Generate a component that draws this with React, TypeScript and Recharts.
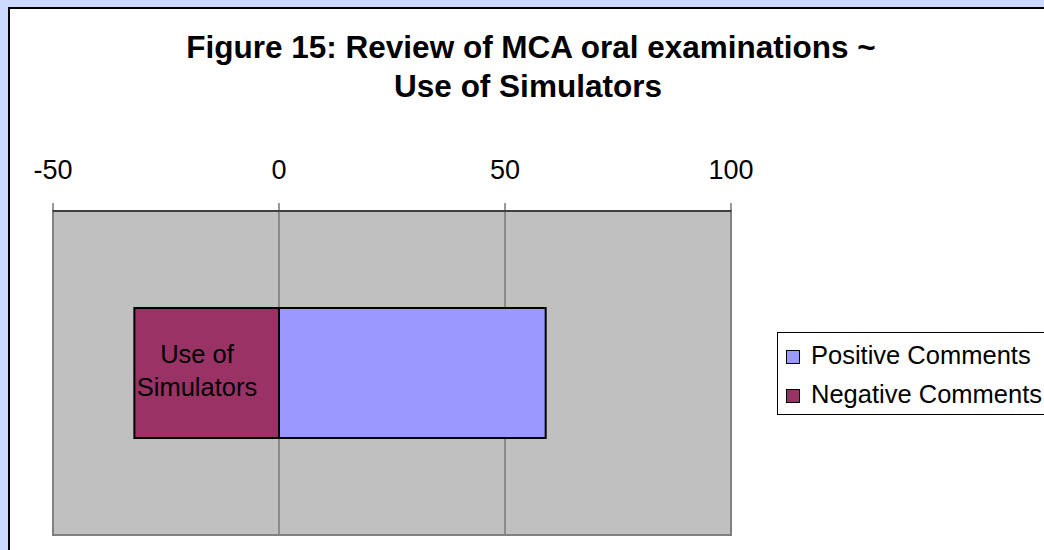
import React from "react";
import {
  BarChart,
  Bar,
  XAxis,
  YAxis,
  CartesianGrid,
  Legend,
  LabelList,
  ReferenceArea,
} from "recharts";

const categories = ["Use of Simulators"];
const positiveValues = [59];
const negativeValues = [-32];
const xTicks = [-50, 0, 50, 100];
const titleLines = ["Figure 15: Review of MCA oral examinations ~", "Use of Simulators"];
const seriesNames = { positive: "Positive Comments", negative: "Negative Comments" };
const legendOrder = [seriesNames.positive, seriesNames.negative];
const colors = { positive: "#9999FF", negative: "#993366" };

const data = categories.map((name, i) => ({
  name,
  positive: positiveValues[i],
  negative: negativeValues[i],
}));

const FONT = "'Liberation Sans', Arial, sans-serif";

const XTick = (props: any) => {
  const { x, y, payload } = props;
  return (
    <text x={x} y={y - 22} textAnchor="middle" fontFamily={FONT} fontSize={27} fill="#000">
      {payload.value}
    </text>
  );
};

const CategoryLabel = (props: any) => {
  const { x, y, width, height, value } = props;
  const right = Math.max(x, x + width);
  const cx = right - 82;
  const cy = y + height / 2;
  const words = String(value).split(" ");
  const line1 = words.slice(0, words.length - 1).join(" ");
  const line2 = words[words.length - 1];
  return (
    <g>
      <text x={cx} y={cy - 10} textAnchor="middle" fontFamily={FONT} fontSize={25.5} fill="#000">
        {line1}
      </text>
      <text x={cx} y={cy + 23} textAnchor="middle" fontFamily={FONT} fontSize={25.5} fill="#000">
        {line2}
      </text>
    </g>
  );
};

const LegendContent = (props: any) => {
  const payload = [...(props.payload || [])].sort(
    (a: any, b: any) => legendOrder.indexOf(a.value) - legendOrder.indexOf(b.value)
  );
  return (
    <div
      style={{
        position: "absolute",
        left: 777,
        top: 332,
        border: "1px solid #000",
        background: "#fff",
        width: 290,
        height: 83,
        boxSizing: "border-box",
        paddingTop: 3,
        paddingLeft: 8,
      }}
    >
      {payload.map((p: any) => (
        <div
          key={p.value}
          style={{
            display: "flex",
            alignItems: "center",
            height: 39,
            fontFamily: FONT,
            fontSize: 25.5,
            color: "#000",
            whiteSpace: "nowrap",
          }}
        >
          <span
            style={{
              display: "inline-block",
              width: 12,
              height: 12,
              border: "1.5px solid #000",
              background: p.color,
              marginRight: 11,
              marginTop: 2,
            }}
          />
          {p.value}
        </div>
      ))}
    </div>
  );
};

export default function App() {
  return (
    <div
      style={{
        position: "absolute",
        left: 0,
        top: 0,
        width: 1044,
        height: 550,
        overflow: "hidden",
        background: "#CCDAFF",
      }}
    >
      <div
        style={{
          position: "absolute",
          left: 8,
          top: 7,
          width: 1100,
          height: 600,
          background: "#fff",
          borderLeft: "2px solid #000",
          borderTop: "2px solid #000",
        }}
      />
      <svg
        width={1044}
        height={550}
        style={{ position: "absolute", left: 0, top: 0 }}
      >
        <text x={531} y={58} textAnchor="middle" fontFamily={FONT} fontWeight="bold" fontSize={31.5} fill="#000">
          {titleLines[0]}
        </text>
        <text x={528} y={97} textAnchor="middle" fontFamily={FONT} fontWeight="bold" fontSize={31.5} fill="#000">
          {titleLines[1]}
        </text>
      </svg>
      <div style={{ position: "absolute", left: 0, top: 0 }}>
        <BarChart
          width={1044}
          height={550}
          data={data}
          layout="vertical"
          stackOffset="sign"
          margin={{ top: 161, left: 53, right: 313, bottom: 15 }}
        >
          <CartesianGrid
            horizontal={false}
            vertical={true}
            fill="#C0C0C0"
            fillOpacity={1}
            stroke="#555555"
          />
          <ReferenceArea
            x1={-50}
            x2={100}
            fill="none"
            stroke="#808080"
            strokeWidth={2}
            ifOverflow="visible"
          />
          <XAxis
            type="number"
            orientation="top"
            domain={[-50, 100]}
            ticks={xTicks}
            height={50}
            tickSize={8}
            tick={<XTick />}
            axisLine={{ stroke: "#000", strokeWidth: 1 }}
            tickLine={{ stroke: "#333" }}
            interval={0}
          />
          <YAxis type="category" dataKey="name" hide width={0} />
          <Legend
            layout="horizontal"
            verticalAlign="middle"
            align="center"
            wrapperStyle={{ position: "absolute", left: 0, top: 0, width: 0, height: 0 }}
            content={<LegendContent />}
          />
          <Bar
            dataKey="positive"
            name={seriesNames.positive}
            stackId="a"
            fill={colors.positive}
            stroke="#000"
            strokeWidth={2}
            barSize={130}
            isAnimationActive={false}
          />
          <Bar
            dataKey="negative"
            name={seriesNames.negative}
            stackId="a"
            fill={colors.negative}
            stroke="#000"
            strokeWidth={2}
            barSize={130}
            isAnimationActive={false}
          >
            <LabelList dataKey="name" content={<CategoryLabel />} />
          </Bar>
        </BarChart>
      </div>
    </div>
  );
}
